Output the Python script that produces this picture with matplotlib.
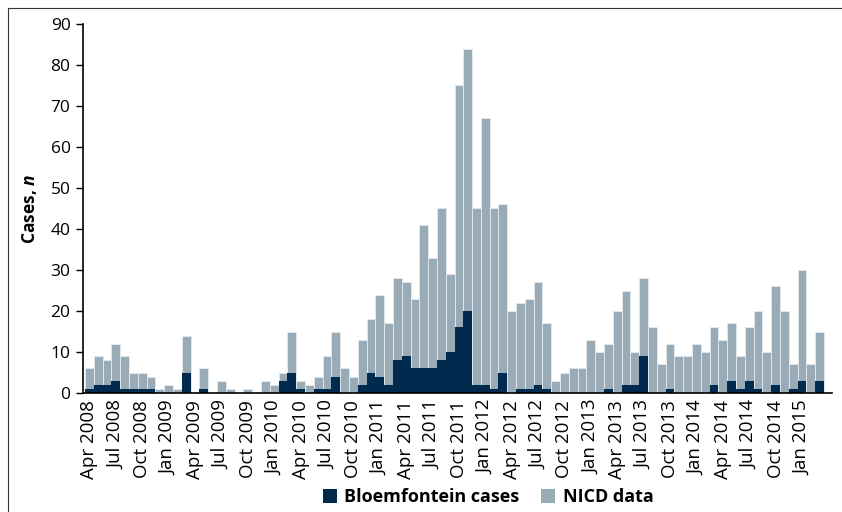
import matplotlib
matplotlib.use("Agg")
import matplotlib.pyplot as plt
from matplotlib.lines import Line2D
from matplotlib.patches import Patch
import numpy as np

plt.rcParams['font.family'] = ['Open Sans', 'DejaVu Sans']
plt.rcParams['mathtext.fontset'] = 'custom'
plt.rcParams['mathtext.it'] = 'Open Sans:italic:bold'

months = ["Apr 2008", "May 2008", "Jun 2008", "Jul 2008", "Aug 2008", "Sep 2008", "Oct 2008", "Nov 2008", "Dec 2008",
          "Jan 2009", "Feb 2009", "Mar 2009", "Apr 2009", "May 2009", "Jun 2009", "Jul 2009", "Aug 2009", "Sep 2009",
          "Oct 2009", "Nov 2009", "Dec 2009", "Jan 2010", "Feb 2010", "Mar 2010", "Apr 2010", "May 2010", "Jun 2010",
          "Jul 2010", "Aug 2010", "Sep 2010", "Oct 2010", "Nov 2010", "Dec 2010", "Jan 2011", "Feb 2011", "Mar 2011",
          "Apr 2011", "May 2011", "Jun 2011", "Jul 2011", "Aug 2011", "Sep 2011", "Oct 2011", "Nov 2011", "Dec 2011",
          "Jan 2012", "Feb 2012", "Mar 2012", "Apr 2012", "May 2012", "Jun 2012", "Jul 2012", "Aug 2012", "Sep 2012",
          "Oct 2012", "Nov 2012", "Dec 2012", "Jan 2013", "Feb 2013", "Mar 2013", "Apr 2013", "May 2013", "Jun 2013",
          "Jul 2013", "Aug 2013", "Sep 2013", "Oct 2013", "Nov 2013", "Dec 2013", "Jan 2014", "Feb 2014", "Mar 2014",
          "Apr 2014", "May 2014", "Jun 2014", "Jul 2014", "Aug 2014", "Sep 2014", "Oct 2014", "Nov 2014", "Dec 2014",
          "Jan 2015", "Feb 2015", "Mar 2015"]

nicd = [6, 9, 8, 12, 9, 5, 5, 4, 1,
        2, 1, 14, 0, 6, 0, 3, 1, 0,
        1, 0, 3, 2, 5, 15, 3, 2, 4,
        9, 15, 6, 4, 13, 18, 24, 17, 28,
        27, 23, 41, 33, 45, 29, 75, 84, 45,
        67, 45, 46, 20, 22, 23, 27, 17, 3,
        5, 6, 6, 13, 10, 12, 20, 25, 10,
        28, 16, 7, 12, 9, 9, 12, 10, 16,
        13, 17, 9, 16, 20, 10, 26, 20, 7,
        30, 7, 15]

bloem = [1, 2, 2, 3, 1, 1, 1, 1, 0,
         0, 0, 5, 0, 1, 0, 0, 0, 0,
         0, 0, 0, 0, 3, 5, 1, 0, 1,
         1, 4, 0, 0, 2, 5, 4, 2, 8,
         9, 6, 6, 6, 8, 10, 16, 20, 2,
         2, 1, 5, 0, 1, 1, 2, 1, 0,
         0, 0, 0, 0, 0, 1, 0, 2, 2,
         9, 0, 0, 1, 0, 0, 0, 0, 2,
         0, 3, 1, 3, 1, 0, 2, 0, 1,
         3, 0, 3]

grey = '#9aabb8'
navy = '#002a4e'

fig = plt.figure(figsize=(8.42, 5.12), dpi=100)
ax = fig.add_axes([83/842, 1-393/512, (832-83)/842, (393-24)/512])

x = np.arange(len(months))
ax.bar(x, nicd, width=1.0, color=grey, edgecolor='#e6eaee', linewidth=0.6, label='NICD data', zorder=2)
ax.bar(x, bloem, width=1.0, color=navy, edgecolor='none', linewidth=0, label='Bloemfontein cases', zorder=3)

ax.set_xlim(-0.5 - 2/8.8, len(months) - 0.5 + 8/8.8)
ax.set_ylim(0, 90)
ax.set_yticks(range(0, 91, 10))
ax.set_xticks(x[::3])
ax.set_xticklabels(months[::3], rotation=90, fontsize=13.5)
ax.tick_params(axis='x', length=0, pad=5)
ax.tick_params(axis='y', length=5, width=1, labelsize=12.5, pad=4)
for s in ['top', 'right']:
    ax.spines[s].set_visible(False)
for s in ['left', 'bottom']:
    ax.spines[s].set_linewidth(1.2)
    ax.spines[s].set_color('black')
ax.spines['bottom'].set_zorder(5)

ax.set_ylabel(r'Cases, $\it{n}$', fontsize=12.5, fontweight='bold', labelpad=8)

handles = [Patch(facecolor=navy), Patch(facecolor=grey)]
leg = fig.legend(handles, ['Bloemfontein cases', 'NICD data'], loc='center',
                 bbox_to_anchor=(488/842, 1-497/512), ncol=2, frameon=False,
                 prop={'weight': 'bold', 'size': 13}, handlelength=0.8, handleheight=0.8,
                 handletextpad=0.4, columnspacing=1.2)

# frame lines (left and top)
fig.add_artist(Line2D([7.5/842, 7.5/842], [0, 1-7.5/512], transform=fig.transFigure, color='#333333', lw=0.8))
fig.add_artist(Line2D([7.5/842, 1], [1-7.5/512, 1-7.5/512], transform=fig.transFigure, color='#333333', lw=0.8))

fig.savefig('out.png', dpi=100)
